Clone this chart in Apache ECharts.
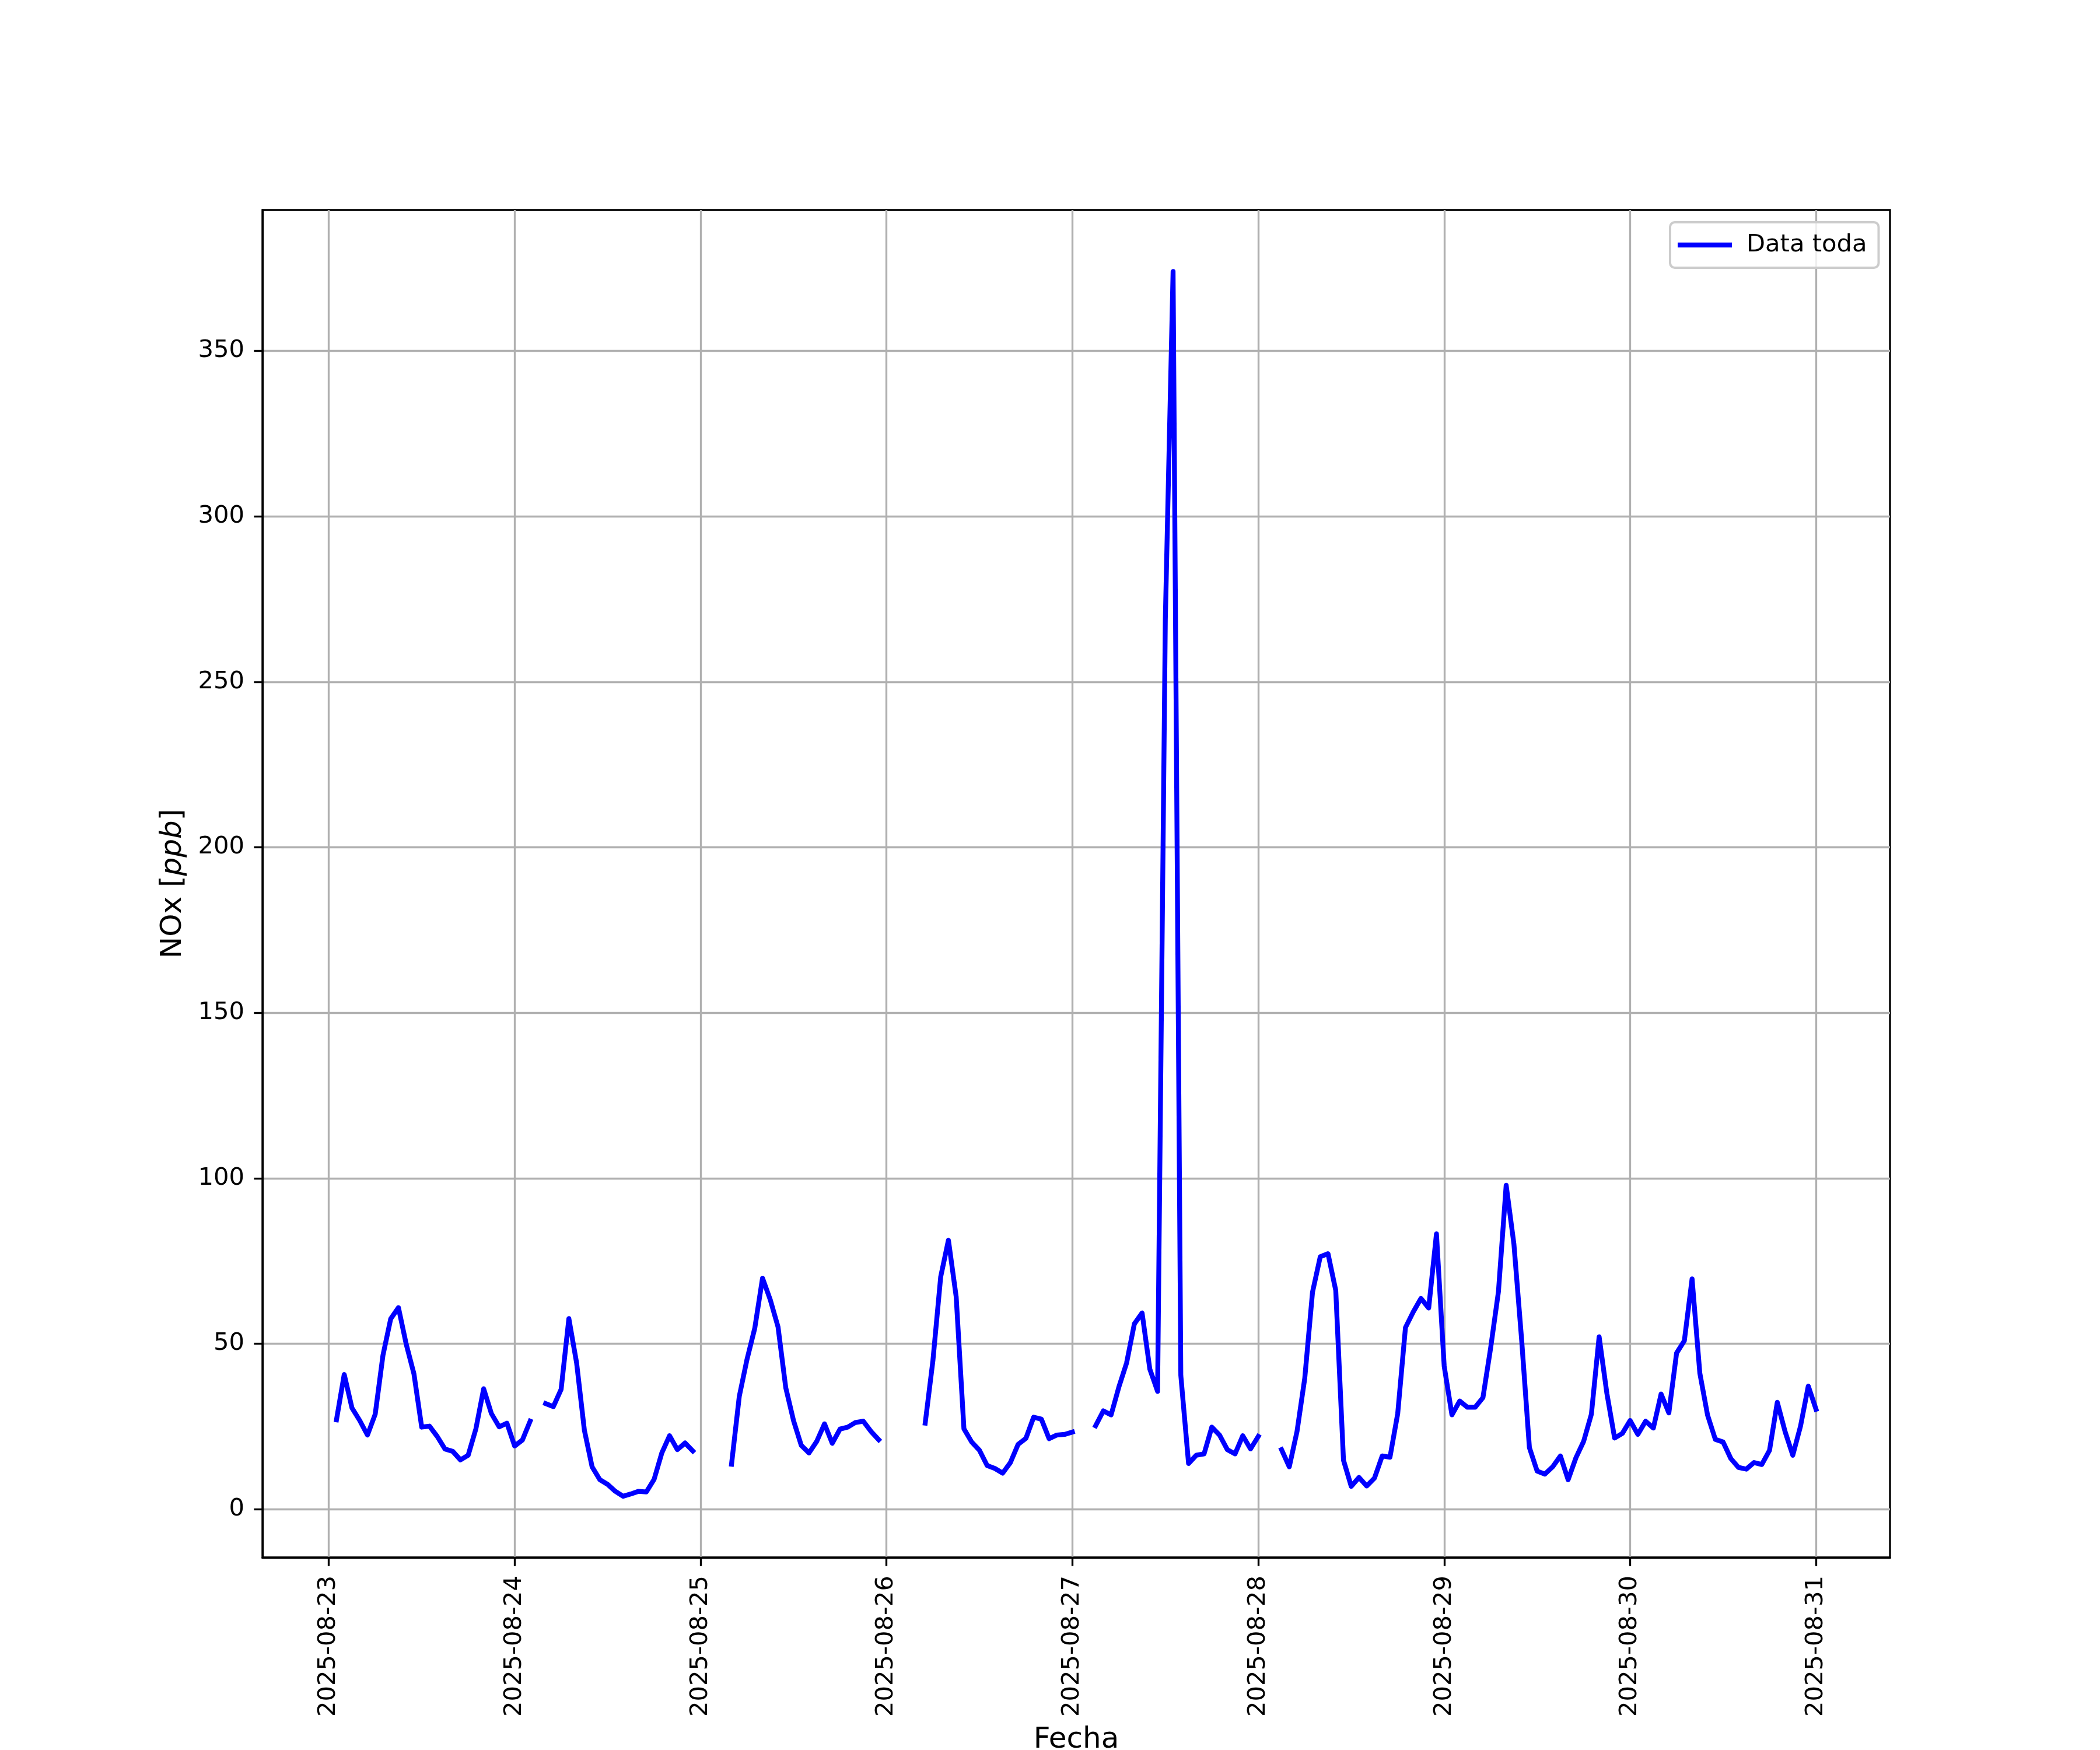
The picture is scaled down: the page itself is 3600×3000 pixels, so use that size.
<!DOCTYPE html>
<html>
<head>
<meta charset="utf-8">
<script src="https://cdn.jsdelivr.net/npm/echarts@6/dist/echarts.min.js"></script>
<style>html,body{margin:0;padding:0;background:#fff}#c{width:3600px;height:3000px}</style>
</head>
<body>
<div id="c"></div>
<script>
// Hourly NOx [ppb] since 2025-08-23 00:00 (index = hour); null = missing
const seriesName = 'Data toda';
const tickLabels = ['2025-08-23','2025-08-24','2025-08-25','2025-08-26','2025-08-27','2025-08-28','2025-08-29','2025-08-30','2025-08-31'];
const yTicks = [0, 50, 100, 150, 200, 250, 300, 350];
const noxHourly = [
  null,
  27.0, 40.7, 30.6, 26.8, 22.4, 28.7, 46.5, 57.5, 60.9, 49.9, 40.9, 24.8, 25.1, 22.0, 18.2, 17.5, 14.9, 16.3, 24.3, 36.4, 28.9, 24.9, 26.0, 19.1, 20.9, 26.6,
  null,
  31.9, 31.0, 36.2, 57.6, 44.2, 23.9, 12.8, 8.9, 7.5, 5.4, 3.9, 4.6, 5.4, 5.2, 9.0, 17.0, 22.2, 18.0, 20.0, 17.6,
  null, null, null, null,
  13.6, 34.1, 45.3, 54.7, 69.8, 63.3, 55.1, 36.7, 26.8, 19.3, 17.0, 20.5, 25.8, 19.9, 24.2, 24.8, 26.2, 26.6, 23.5, 21.0,
  null, null, null, null, null,
  26.0, 45.0, 70.2, 81.3, 64.2, 24.3, 20.3, 17.8, 13.2, 12.3, 10.9, 14.1, 19.6, 21.4, 27.8, 27.2, 21.3, 22.4, 22.6, 23.3,
  null, null,
  25.2, 29.7, 28.5, 36.9, 44.2, 56.0, 59.3, 42.3, 35.6, 269.0, 374.0, 40.4, 13.8, 16.3, 16.7, 24.8, 22.4, 18.0, 16.7, 22.2, 18.2, 22.0,
  null, null,
  18.0, 12.8, 23.5, 39.6, 65.6, 76.3, 77.2, 66.1, 14.8, 6.9, 9.6, 7.0, 9.4, 16.1, 15.7, 28.9, 54.9, 59.6, 63.7, 60.8,
  83.2, 43.2, 28.5, 32.7, 30.8, 30.8, 33.7, 48.8, 65.7, 97.9, 80.1, 51.1, 18.6, 11.5, 10.6, 12.8, 16.1, 8.9, 15.5, 20.5,
  28.7, 52.1, 35.0, 21.5, 22.9, 26.8, 22.6, 26.6, 24.5, 34.8, 29.1, 47.2, 50.9, 69.6, 41.1, 28.4, 21.1, 20.3, 15.3, 12.6,
  12.1, 14.1, 13.5, 17.8, 32.3, 23.5, 16.3, 25.1, 37.2, 30.2
];

const FONT = 'DejaVu Sans';
const FS = 41.67;
const FS_NAME = 50;
const tickHours = tickLabels.map((_, i) => i * 24);
const lineData = noxHourly.map((v, i) => [i, v == null ? '-' : v]);

const chart = echarts.init(document.getElementById('c'), null, {renderer: 'canvas'});
chart.setOption({
  animation: false,
  backgroundColor: '#ffffff',
  grid: {left: 450, right: 360, top: 360, bottom: 330, containLabel: false, outerBoundsMode: 'none',
    show: true, borderColor: '#000', borderWidth: 3.33, backgroundColor: 'transparent'},
  legend: {
    data: [{name: seriesName, icon: 'rect'}],
    left: 2863, top: 381,
    orient: 'vertical',
    itemWidth: 93, itemHeight: 8.33,
    padding: [18, 20, 18, 13],
    backgroundColor: 'rgba(255,255,255,0.8)',
    borderColor: '#cccccc', borderWidth: 4, borderRadius: 8,
    textStyle: {fontSize: FS, fontFamily: FONT, color: '#000', padding: [0, 0, 0, 20]}
  },
  xAxis: {
    type: 'value', min: -8.55, max: 201.55,
    name: 'Fecha', nameLocation: 'middle', nameGap: 288,
    nameTextStyle: {fontSize: FS_NAME, fontFamily: FONT, color: '#000'},
    axisLine: {show: true, onZero: false, lineStyle: {color: '#000', width: 3.33}},
    axisTick: {show: true, customValues: tickHours, length: 14.6, lineStyle: {color: '#000', width: 3.33}},
    axisLabel: {customValues: tickHours, rotate: 90, margin: 31, fontSize: FS, fontFamily: FONT, color: '#000',
      formatter: v => tickLabels[Math.round(v / 24)] || ''},
    splitLine: {show: true, lineStyle: {color: '#b0b0b0', width: 3.33}}
  },
  yAxis: {
    type: 'value', min: -14.6, max: 392.6,
    name: '{n|NOx [}{i|ppb}{n|]}', nameLocation: 'middle', nameGap: 128, nameRotate: 90,
    nameTextStyle: {fontSize: FS_NAME, fontFamily: FONT, color: '#000',
      rich: {n: {fontSize: FS_NAME, fontFamily: FONT, color: '#000'}, i: {fontSize: FS_NAME, fontFamily: FONT, fontStyle: 'italic', color: '#000'}}},
    axisLine: {show: true, onZero: false, lineStyle: {color: '#000', width: 3.33}},
    axisTick: {show: true, customValues: yTicks, length: 14.6, lineStyle: {color: '#000', width: 3.33}},
    axisLabel: {customValues: yTicks, margin: 31, fontSize: FS, fontFamily: FONT, color: '#000'},
    splitLine: {show: true, lineStyle: {color: '#b0b0b0', width: 3.33}}
  },
  series: [{
    type: 'line', name: seriesName, data: lineData,
    symbol: 'none', showSymbol: false, connectNulls: false,
    lineStyle: {color: '#0000ff', width: 8.33, cap: 'square', join: 'round'},
    itemStyle: {color: '#0000ff'},
    emphasis: {disabled: true}
  }]
});
</script>
</body>
</html>
